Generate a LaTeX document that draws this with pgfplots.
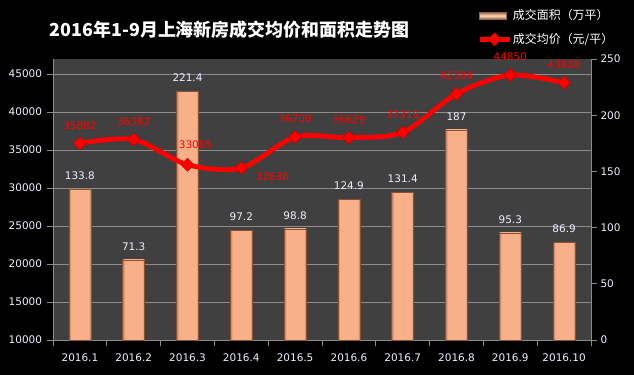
\documentclass[border=0pt]{standalone}
\usepackage{pgfplots}
\pgfplotsset{compat=1.18}
\usepackage{fontspec}
\setmainfont{DejaVu Sans}
\newfontfamily\cjk{Noto Sans CJK SC}
\definecolor{plotbg}{HTML}{404040}
\definecolor{gridc}{HTML}{8C8C8C}
\definecolor{axisc}{HTML}{8C8C8C}
\definecolor{barmid}{HTML}{F8B089}
\definecolor{baredge}{HTML}{C27A56}
\definecolor{barline}{HTML}{8A5233}
\definecolor{swlight}{HTML}{F8DCC0}
\definecolor{swdark}{HTML}{9A6040}
\definecolor{ticktext}{HTML}{EEF0FF}
\definecolor{darkred}{HTML}{C00000}
\pgfdeclarehorizontalshading{barshade}{100bp}{color(0bp)=(baredge); color(25bp)=(baredge); color(30bp)=(barmid); color(70bp)=(barmid); color(75bp)=(baredge); color(100bp)=(baredge)}
\tikzset{tlab/.style={font=\fontsize{10.5}{12}\selectfont, text=ticktext}}
\pgfplotsset{
  longline legend/.style={legend image code/.code={\draw[mark repeat=2,mark phase=2,##1]
    plot coordinates {(0bp,0bp) (15bp,0bp) (30bp,0bp)};}},
  bar legend/.style={legend image code/.code={
    \fill[draw=swdark, top color=swdark, bottom color=swdark, middle color=swlight]
    (0bp,-3.5bp) rectangle (27bp,3.5bp);}},
  mybar/.style={ybar, bar shift=0pt, bar width=22bp, draw=barline, line width=0.6bp,
    shading=barshade,
    nodes near coords, point meta=explicit symbolic,
    every node near coord/.append style={tlab, yshift=6bp}},
}
\begin{document}
\begin{tikzpicture}
\fill[black] (0,0) rectangle (634bp,375bp);
\pgfplotsset{
  base/.style={at={(53bp,35bp)}, anchor=south west, scale only axis,
    width=538bp, height=281bp, xmin=-0.5, xmax=9.5, clip=false},
}
% axis 1: background, grid, left axis, x axis
\begin{axis}[base, ymin=10000, ymax=46970,
  axis background/.style={fill=plotbg},
  axis x line*=bottom, axis y line*=left,
  axis line style={draw=axisc, line width=0.8bp, -},
  ytick={10000,15000,...,45000},
  ymajorgrids, grid style={draw=gridc, line width=0.8bp},
  tick align=outside, major tick length=6bp,
  tick style={draw=axisc, line width=0.8bp},
  /pgf/number format/assume math mode=true,
  /pgf/number format/1000 sep={},
  scaled y ticks=false,
  yticklabel style={tlab, xshift=-1.5bp},
  xticklabel style={tlab, yshift=-10bp},
  xtick={-0.5,0.5,...,9.5}, xticklabels={},
  extra x ticks={0,1,2,3,4,5,6,7,8,9},
  extra x tick labels={2016.1,2016.2,2016.3,2016.4,2016.5,2016.6,2016.7,2016.8,2016.9,2016.10},
  extra x tick style={major tick length=0pt, grid=none},
]
\addplot[draw=none, forget plot] coordinates {(0,20000)};
\end{axis}
% axis 2: bars on right axis
\begin{axis}[base, ymin=0, ymax=250,
  axis x line=none, axis y line*=right,
  axis line style={draw=axisc, line width=0.8bp, -},
  ytick={0,50,...,250},
  tick align=outside, major tick length=6bp,
  tick style={draw=axisc, line width=0.8bp},
  /pgf/number format/assume math mode=true,
  yticklabel style={tlab},
]
\addplot[mybar] coordinates {(0,133.8) [133.8]};
\addplot[mybar] coordinates {(1,71.3) [71.3]};
\addplot[mybar] coordinates {(2,221.4) [221.4]};
\addplot[mybar] coordinates {(3,97.2) [97.2]};
\addplot[mybar] coordinates {(4,98.8) [98.8]};
\addplot[mybar] coordinates {(5,124.9) [124.9]};
\addplot[mybar] coordinates {(6,131.4) [131.4]};
\addplot[mybar] coordinates {(7,187) [187]};
\addplot[mybar] coordinates {(8,95.3) [95.3]};
\addplot[mybar] coordinates {(9,86.9) [86.9]};
\end{axis}
% axis 3: price line
\begin{axis}[base, ymin=10000, ymax=46970, hide axis,
  title={2016年1-9月上海新房成交均价和面积走势图},
  title style={at={(0.328,1.082)}, anchor=center,
    font=\cjk\bfseries\fontsize{18}{20}\selectfont, text=white},
  legend style={at={(0.788,1.183)}, anchor=north west, draw=none, fill=none,
    text=white, font=\cjk\fontsize{12}{14}\selectfont, row sep=8bp,
    inner sep=0pt, nodes={inner xsep=1bp}},
  legend cell align=left,
]
\addlegendimage{bar legend}
\addlegendentry{成交面积（万平）}
\addplot[red, line width=4.8bp, smooth,
  mark=square*, mark size=4.6bp,
  mark options={rotate=45, fill=red, draw=darkred, line width=0.5bp},
  longline legend]
  coordinates {(0,35882) (1,36382) (2,33065) (3,32636) (4,36700)
               (5,36629) (6,37319) (7,42384) (8,44850) (9,43838)};
\addlegendentry{成交均价（元/平）}
% labels above
\addplot[draw=none, forget plot, nodes near coords, point meta=explicit symbolic,
  every node near coord/.append style={anchor=center, yshift=18bp,
    font=\fontsize{10.5}{12}\selectfont, text=red}]
  table[meta=l] {
x y l
0 35882 35882
1 36382 36382
4 36700 36700
5 36629 36629
6 37319 37319
7 42384 42384
8 44850 44850
9 43838 43838
};
\addplot[draw=none, forget plot, nodes near coords, point meta=explicit symbolic,
  every node near coord/.append style={anchor=center, xshift=8bp, yshift=20bp,
    font=\fontsize{10.5}{12}\selectfont, text=red}]
  table[meta=l] {
x y l
2 33065 33065
};
\addplot[draw=none, forget plot, nodes near coords, point meta=explicit symbolic,
  every node near coord/.append style={anchor=center, xshift=31bp, yshift=-9bp,
    font=\fontsize{10.5}{12}\selectfont, text=red}]
  table[meta=l] {
x y l
3 32636 32636
};
\end{axis}
\end{tikzpicture}
\end{document}
